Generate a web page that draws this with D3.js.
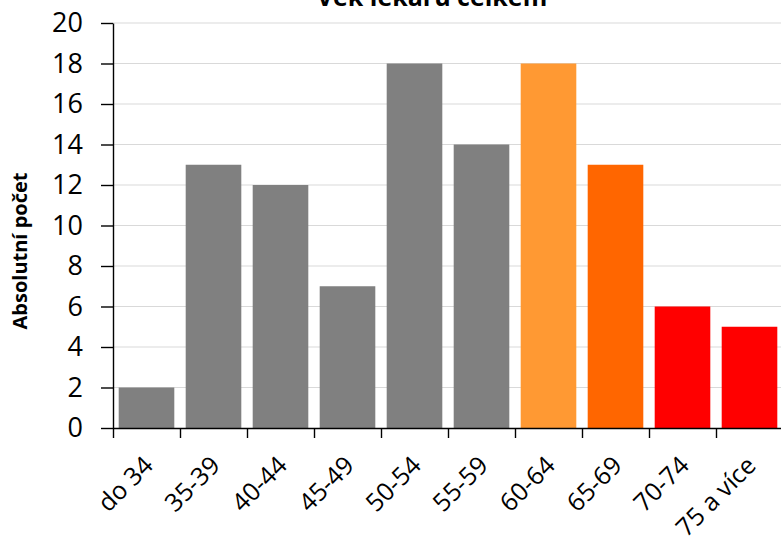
<!DOCTYPE html>
<html>
<head>
<meta charset="utf-8">
<script src="https://cdn.jsdelivr.net/npm/d3@7"></script>
<style>
  body { margin: 0; background: #fff; }
  text { font-family: "Open Sans", sans-serif; fill: #000; }
  .axis path, .axis line { stroke: #000; stroke-width: 1.4; }
  .grid line { stroke: #d9d9d9; stroke-width: 1; }
</style>
</head>
<body>
<div id="chart"></div>
<script>
// Data - age groups of doctors
const categories = ['do 34', '35-39', '40-44', '45-49', '50-54', '55-59', '60-64', '65-69', '70-74', '75 a více'];
const counts = [2, 13, 12, 7, 18, 14, 18, 13, 6, 5];
const barColors = ['#808080', '#808080', '#808080', '#808080', '#808080', '#808080', '#ff9933', '#ff6600', '#ff0000', '#ff0000'];
const yTicks = [0, 2, 4, 6, 8, 10, 12, 14, 16, 18, 20];
const title = 'Věk lékařů celkem';
const yTitle = 'Absolutní počet';

const width = 781;
const height = 546;
const margin = {top: 23, left: 113, bottom: 118, right: -2};

const data = categories.map((c, i) => ({category: c, value: counts[i], color: barColors[i]}));

// X scales: band for bars, linear for boundary ticks
let x_band = d3.scaleBand()
  .domain(categories)
  .range([margin.left, width - margin.right])
  .paddingInner(0.17)
  .paddingOuter(0.085);
let x_edges = d3.scaleLinear()
  .domain([0, categories.length])
  .range([margin.left, width - margin.right]);

// Y scale
let y_scale = d3.scaleLinear()
  .domain([0, 20])
  .range([height - margin.bottom, margin.top]);

let svg = d3.select('#chart')
  .append('svg')
    .attr('width', width)
    .attr('height', height);

// Gridlines
svg.append('g')
  .attr('class', 'grid')
  .selectAll('line')
  .data(yTicks.filter(d => d > 0))
  .join('line')
    .attr('x1', margin.left)
    .attr('x2', width)
    .attr('y1', d => y_scale(d))
    .attr('y2', d => y_scale(d));

// Bars
svg.append('g')
  .selectAll('rect')
  .data(data)
  .join('rect')
    .attr('x', d => x_band(d.category))
    .attr('y', d => y_scale(d.value))
    .attr('width', x_band.bandwidth())
    .attr('height', d => y_scale(0) - y_scale(d.value))
    .attr('fill', d => d.color);

// Y axis
svg.append('g')
  .attr('class', 'axis axis-y')
  .attr('transform', 'translate(' + margin.left + ',0)')
  .call(d3.axisLeft(y_scale).tickValues(yTicks).tickSize(12).tickSizeOuter(0).tickPadding(18))
  .call(g => g.selectAll('text').style('font-size', '27px'));

// X axis: ticks at category boundaries
svg.append('g')
  .attr('class', 'axis axis-x')
  .attr('transform', 'translate(0,' + y_scale(0) + ')')
  .call(d3.axisBottom(x_edges).tickValues(d3.range(categories.length + 1)).tickFormat('').tickSize(10).tickSizeOuter(0));

// X labels, rotated
svg.append('g')
  .selectAll('text')
  .data(categories)
  .join('text')
    .attr('transform', d => 'translate(' + (x_band(d) + x_band.bandwidth() / 2 + 8) + ',' + (y_scale(0) + 39) + ') rotate(-45)')
    .attr('text-anchor', 'end')
    .style('font-size', '25px')
    .text(d => d);

// Y axis title
svg.append('text')
  .attr('transform', 'translate(27,' + 251 + ') rotate(-90)')
  .attr('text-anchor', 'middle')
  .style('font-size', '20px')
  .style('font-weight', 'bold')
  .text(yTitle);

// Chart title (cut at top, as in the source image)
svg.append('text')
  .attr('x', 432)
  .attr('y', 6)
  .attr('text-anchor', 'middle')
  .style('font-size', '25px')
  .style('font-weight', 'bold')
  .text(title);
</script>
</body>
</html>
